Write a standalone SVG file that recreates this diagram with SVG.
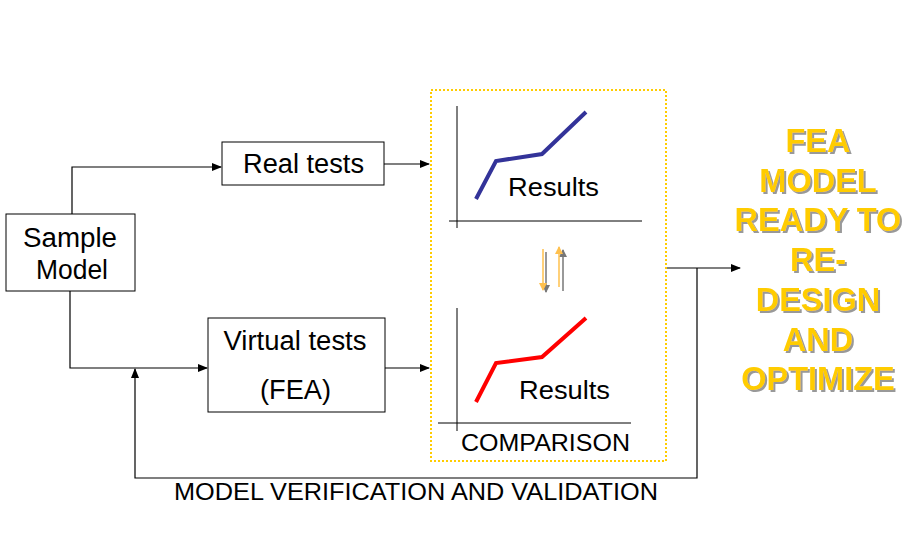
<svg xmlns="http://www.w3.org/2000/svg" width="921" height="558" viewBox="0 0 921 558">
<defs>
<marker id="ah" markerWidth="10" markerHeight="8" refX="9" refY="4" orient="auto" markerUnits="userSpaceOnUse">
<path d="M0,0 L10,4 L0,8 Z" fill="#000"/>
</marker>
<marker id="aho" markerWidth="8" markerHeight="8" refX="7" refY="4" orient="auto" markerUnits="userSpaceOnUse">
<path d="M0,0 L8,4 L0,8 Z" fill="#FFC04D"/>
</marker>
<marker id="ahg" markerWidth="8" markerHeight="8" refX="7" refY="4" orient="auto" markerUnits="userSpaceOnUse">
<path d="M0,0 L8,4 L0,8 Z" fill="#777"/>
</marker>
<filter id="sh" x="-10%" y="-10%" width="120%" height="130%">
<feDropShadow dx="2" dy="2" stdDeviation="0" flood-color="#999" flood-opacity="1"/>
</filter>
</defs>
<style>
.box{fill:#fff;stroke:#000;stroke-width:1}
.t{font-family:"Liberation Sans",Arial,sans-serif;fill:#000;text-anchor:middle}
.c{stroke:#000;stroke-width:1.2;fill:none}
.ax{stroke:#000;stroke-width:1;fill:none}
.big{font-family:"Liberation Sans",Arial,sans-serif;font-weight:bold;font-size:32.5px;text-anchor:middle;fill:#FFCC00}
</style>
<rect width="921" height="558" fill="#fff"/>

<g id="connectors">
<polyline class="c" points="72,214 72,167 221,167" marker-end="url(#ah)"/>
<polyline class="c" points="70,291 70,368 207,368" marker-end="url(#ah)"/>
<line class="c" x1="384" y1="164" x2="429" y2="164" marker-end="url(#ah)"/>
<line class="c" x1="385" y1="368" x2="429" y2="368" marker-end="url(#ah)"/>
<line class="c" x1="667" y1="268" x2="740" y2="268" marker-end="url(#ah)"/>
<polyline class="c" points="697,268 697,478 135,478 135,369" marker-end="url(#ah)"/>
</g>

<g id="sample-model">
<rect class="box" x="6" y="214" width="129" height="77"/>
<text class="t" x="70" y="247" font-size="27" textLength="94" lengthAdjust="spacingAndGlyphs">Sample</text>
<text class="t" x="72" y="279" font-size="27" textLength="72" lengthAdjust="spacingAndGlyphs">Model</text>
</g>

<g id="real-tests">
<rect class="box" x="222" y="142" width="162" height="43"/>
<text class="t" x="303.5" y="173" font-size="27" textLength="121" lengthAdjust="spacingAndGlyphs">Real tests</text>
</g>

<g id="virtual-tests">
<rect class="box" x="208" y="318" width="177" height="94"/>
<text class="t" x="295" y="350" font-size="27" textLength="143" lengthAdjust="spacingAndGlyphs">Virtual tests</text>
<text class="t" x="295.5" y="399" font-size="27" textLength="71" lengthAdjust="spacingAndGlyphs">(FEA)</text>
</g>

<g id="comparison">
<rect x="431" y="90" width="235" height="371" fill="none" stroke="#FFCC00" stroke-width="2" stroke-dasharray="2,2"/>
<line class="ax" x1="457" y1="106" x2="457" y2="228"/>
<line class="ax" x1="449" y1="221" x2="642" y2="221"/>
<polyline points="476,199 496,161 542,154 586,112" fill="none" stroke="#333399" stroke-width="4"/>
<text class="t" x="553.5" y="196" font-size="26.5" textLength="91" lengthAdjust="spacingAndGlyphs">Results</text>
<line class="ax" x1="457" y1="308" x2="457" y2="431"/>
<line class="ax" x1="438" y1="423" x2="631" y2="423"/>
<polyline points="476,402 496,363 542,357 586,318" fill="none" stroke="#FF0000" stroke-width="4"/>
<text class="t" x="564.5" y="399" font-size="26.5" textLength="91" lengthAdjust="spacingAndGlyphs">Results</text>
<line x1="546" y1="252" x2="546" y2="292" stroke="#777" stroke-width="1.5" marker-end="url(#ahg)"/>
<line x1="543" y1="249" x2="543" y2="290" stroke="#FFC04D" stroke-width="1.5" marker-end="url(#aho)"/>
<line x1="563" y1="291" x2="563" y2="250" stroke="#777" stroke-width="1.5" marker-end="url(#ahg)"/>
<line x1="559" y1="287" x2="559" y2="247" stroke="#FFC04D" stroke-width="1.5" marker-end="url(#aho)"/>
<text class="t" x="545.5" y="451" font-size="23.5" textLength="169" lengthAdjust="spacingAndGlyphs">COMPARISON</text>
</g>

<g id="result" filter="url(#sh)">
<text class="big" x="818" y="152">FEA</text>
<text class="big" x="818" y="192">MODEL</text>
<text class="big" x="818" y="231">READY TO</text>
<text class="big" x="818" y="271">RE-</text>
<text class="big" x="818" y="311">DESIGN</text>
<text class="big" x="818" y="351">AND</text>
<text class="big" x="818" y="390">OPTIMIZE</text>
</g>

<g id="label">
<text class="t" x="416" y="500" font-size="24" textLength="484" lengthAdjust="spacingAndGlyphs">MODEL VERIFICATION AND VALIDATION</text>
</g>
</svg>
